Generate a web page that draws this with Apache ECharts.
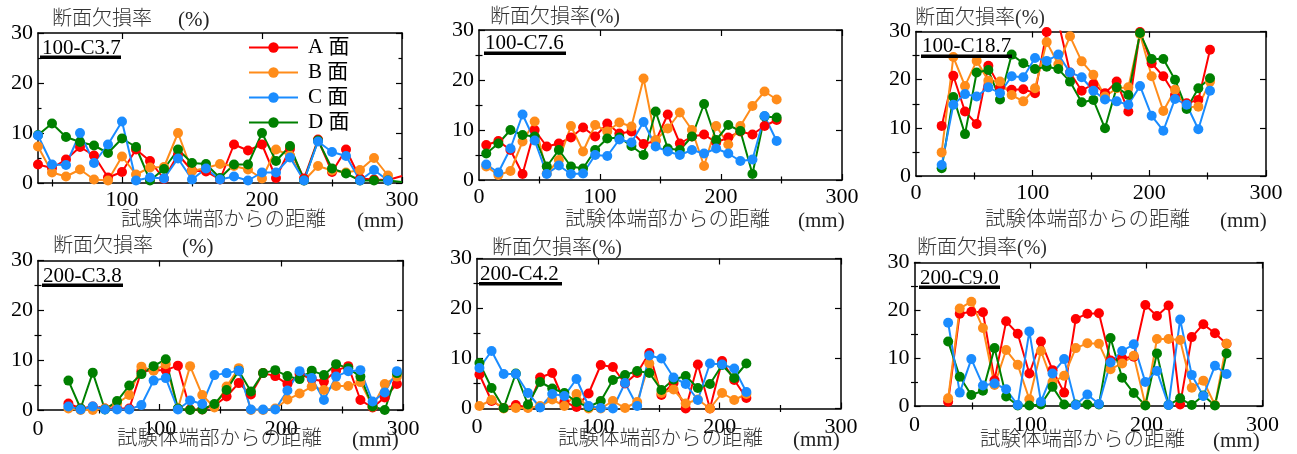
<!DOCTYPE html>
<html>
<head>
<meta charset="utf-8">
<script src="https://cdn.jsdelivr.net/npm/echarts@6/dist/echarts.min.js"></script>
<style>
html, body { margin: 0; padding: 0; background: #fff; }
#chart { width: 1297px; height: 454px; }
</style>
</head>
<body>
<div id="chart"></div>
<script>
// Face names and colours (A, B, C, D faces)
const faces = ['A 面', 'B 面', 'C 面', 'D 面'];
const faceColors = ['#ff0000', '#ff8c1a', '#1a8cff', '#008000'];

// Tick values
const yTicks = [0, 10, 20, 30];
const yMinorTicks = [5, 15, 25];
const xTicks = [0, 100, 200, 300];
const p1XTicks = [100, 200, 300];
const xMinorTicks = [50, 150, 250];

// Specimen 100-C3.7
const p1Name = '100-C3.7';
const p1Dist = [40, 50, 60, 70, 80, 90, 100, 110, 120, 130, 140, 150, 160, 170, 180, 190, 200, 210, 220, 230, 240, 250, 260, 270, 280, 290, 300];
const p1A = [3.7, 3.0, 4.7, 7.2, 5.5, 1.1, 2.2, 6.7, 4.4, 0.8, 5.7, 2.5, 2.3, 0.7, 7.7, 6.5, 7.7, 1.0, 6.8, 0.9, 8.7, 2.2, 6.7, 0.9, 0.7, 0.6, 1.4];
const p1B = [7.3, 2.1, 1.3, 2.7, 0.7, 0.5, 5.3, 1.7, 3.1, 3.2, 10.0, 2.4, 3.0, 3.8, 3.4, 2.7, 0.9, 6.7, 5.5, 0.5, 3.4, 2.5, 2.1, 2.6, 5.0, 1.5, null];
const p1C = [9.5, 3.7, 3.6, 10.0, 4.0, 7.7, 12.3, 0.5, 1.1, 0.9, 4.9, 0.7, 2.9, 0.7, 1.3, 0.5, 2.1, 2.1, 5.1, 0.5, 8.3, 6.2, 5.4, 0.5, 2.6, 0.5, null];
const p1D = [9.6, 11.9, 9.2, 8.2, 7.5, 6.0, 8.9, 7.2, 0.5, 2.8, 6.7, 4.0, 3.8, 1.0, 3.7, 3.7, 10.0, 4.4, 7.4, 0.5, 8.5, 2.9, 1.9, 0.5, 0.5, 0.5, 0.2];

// Specimen 100-C7.6
const p2Name = '100-C7.6';
const p2Dist = [6, 16, 26, 36, 46, 56, 66, 76, 86, 96, 106, 116, 126, 136, 146, 156, 166, 176, 186, 196, 206, 216, 226, 236, 246];
const p2A = [7.0, 7.8, 6.0, 1.2, 10.0, 6.7, 7.3, 8.5, 10.5, 8.7, 11.3, 9.3, 9.7, 7.2, 7.8, 13.1, 7.3, 8.7, 9.1, 7.5, 8.5, 9.7, 9.1, 10.8, 12.0];
const p2B = [2.7, 1.0, 1.8, 7.7, 11.7, 1.3, 4.0, 10.8, 5.7, 11.0, 9.7, 11.5, 10.7, 20.3, 8.0, 10.3, 13.5, 10.0, 2.8, 10.8, 7.1, 10.8, 14.8, 17.7, 16.1];
const p2C = [3.1, 1.5, 6.3, 13.1, 7.9, 1.2, 2.9, 1.2, 1.3, 5.0, 4.8, 8.1, 7.5, 11.6, 6.7, 5.7, 5.0, 6.0, 5.3, 6.3, 5.3, 3.8, 4.1, 12.8, 7.8];
const p2D = [5.3, 7.3, 10.0, 9.0, 8.7, 2.7, 6.0, 2.7, 2.3, 6.0, 8.3, 8.5, 6.8, 5.0, 13.7, 6.3, 6.0, 8.7, 15.2, 8.0, 11.0, 9.8, 1.2, 12.7, 12.5];

// Specimen 100-C18.7
const p3Name = '100-C18.7';
const p3Dist = [22, 32, 42, 52, 62, 72, 82, 92, 102, 112, 122, 132, 142, 152, 162, 172, 182, 192, 202, 212, 222, 232, 242, 252];
const p3A = [10.4, 20.8, 13.4, 10.8, 22.9, 18.4, 17.9, 18.0, 17.2, 29.9, 32.0, 21.5, 17.7, 19.1, 17.2, 19.6, 13.4, 29.9, 23.4, 20.7, 16.8, 15.1, 15.8, 26.2];
const p3B = [4.9, 24.7, 18.7, 23.9, 19.8, 19.6, 16.8, 15.5, 18.2, 27.8, 23.2, 29.0, 23.8, 21.0, 16.5, 18.2, 18.4, 29.5, 20.7, 13.5, 17.9, 14.3, 14.4, 19.6];
const p3C = [2.3, 14.8, 17.0, 16.5, 18.4, 17.2, 20.7, 20.5, 24.5, 23.9, 25.2, 21.5, 20.5, 17.7, 15.9, 15.5, 14.8, 18.7, 12.5, 9.4, 16.0, 14.8, 9.7, 17.7];
const p3D = [1.6, 16.4, 8.7, 21.5, 22.0, 15.9, 25.2, 23.4, 22.2, 22.7, 22.2, 19.6, 15.3, 15.8, 9.9, 18.4, 16.8, 29.7, 24.3, 24.3, 20.0, 13.9, 18.2, 20.3];

// Specimen 200-C3.8
const p4Name = '200-C3.8';
const p4Dist = [25, 35, 45, 55, 65, 75, 85, 95, 105, 115, 125, 135, 145, 155, 165, 175, 185, 195, 205, 215, 225, 235, 245, 255, 265, 275, 285, 295];
const p4A = [1.3, 0.3, 0.7, 0.3, 0.3, 0.3, 7.8, 8.0, 8.0, 8.9, 0.1, 0.1, 0.9, 2.7, 5.4, 3.1, 7.4, 6.8, 5.2, 7.2, 6.2, 5.7, 7.9, 8.8, 2.0, 0.5, 2.5, 5.2];
const p4B = [0.3, 0.0, 0.0, 0.3, 1.3, 3.0, 8.7, 7.9, 9.2, 0.3, 8.8, 3.0, 0.5, 4.7, 8.4, 0.0, 0.0, 0.3, 2.1, 3.3, 4.7, 4.0, 4.8, 4.8, 5.6, 0.7, 5.2, 6.7];
const p4C = [0.7, 0.1, 0.7, 0.1, 0.1, 0.1, 1.0, 5.9, 6.4, 0.1, 1.9, 1.2, 7.0, 7.4, 7.9, 0.1, 0.1, 0.1, 3.9, 7.8, 6.4, 2.0, 6.7, 7.8, 8.0, 1.7, 3.5, 7.8];
const p4D = [5.9, 0.3, 7.5, 0.1, 1.8, 4.9, 7.2, 8.8, 10.2, 0.3, 0.0, 0.1, 1.2, 4.0, 7.9, 3.7, 7.4, 8.0, 6.8, 6.2, 7.9, 7.0, 9.2, 8.4, 6.7, 0.7, 0.0, 7.4];

// Specimen 200-C4.2
const p5Name = '200-C4.2';
const p5Dist = [2, 12, 22, 32, 42, 52, 62, 72, 82, 92, 102, 112, 122, 132, 142, 152, 162, 172, 182, 192, 202, 212, 222];
const p5A = [6.8, 1.5, 0.1, 0.7, 0.2, 6.2, 7.1, 1.3, 0.3, 3.0, 8.7, 8.3, 5.0, 7.1, 11.1, 2.7, 5.1, 0.0, 8.8, 0.0, 9.5, 5.7, 2.1];
const p5B = [0.5, 1.7, 0.0, 0.1, 0.1, 0.5, 1.8, 0.5, 2.9, 0.0, 0.0, 1.5, 0.1, 1.3, 9.0, 3.1, 3.8, 1.0, 1.8, 0.0, 3.1, 1.7, 2.9];
const p5C = [8.1, 11.5, 6.9, 6.9, 3.1, 0.2, 2.9, 2.5, 5.9, 0.5, 0.1, 0.0, 5.1, 0.5, 10.6, 10.0, 6.2, 4.9, 1.7, 9.0, 8.8, 8.0, 3.3];
const p5D = [9.1, 4.1, 0.1, 7.0, 0.8, 5.3, 4.0, 3.1, 1.3, 0.3, 1.5, 5.7, 6.7, 7.5, 7.1, 3.7, 5.8, 6.5, 4.1, 4.9, 8.7, 6.1, 9.0];

// Specimen 200-C9.0
const p6Name = '200-C9.0';
const p6Dist = [29, 39, 49, 59, 69, 79, 89, 99, 109, 119, 129, 139, 149, 159, 169, 179, 189, 199, 209, 219, 229, 239, 249, 259, 269];
const p6A = [0.9, 19.3, 19.7, 19.6, 5.4, 17.7, 15.1, 6.8, 13.5, 7.5, 2.8, 18.2, 19.3, 19.4, 9.5, 10.0, 10.3, 21.1, 18.8, 21.0, 0.3, 14.4, 17.1, 15.2, 13.0];
const p6B = [1.6, 20.4, 21.8, 16.3, 4.4, 11.7, 8.6, 1.4, 11.5, 5.0, 6.3, 12.1, 13.1, 13.0, 7.7, 8.9, 10.5, 0.2, 14.0, 14.0, 13.8, 3.8, 5.3, 0.2, 13.0];
const p6C = [17.4, 2.8, 9.8, 4.3, 4.7, 3.5, 0.2, 15.6, 0.9, 6.8, 9.8, 0.2, 2.4, 0.4, 9.1, 11.5, 12.9, 5.0, 7.3, 0.2, 18.1, 6.5, 2.1, 8.4, 6.7];
const p6D = [13.5, 6.1, 2.3, 3.2, 12.1, 2.0, 0.1, 0.1, 0.3, 4.0, 0.3, 0.3, 0.3, 0.3, 14.2, 5.9, 2.7, 0.1, 11.0, 0.2, 1.6, 0.2, 2.2, 0.1, 11.0];

const yTitle = '断面欠損率';
const yUnit = '(%)';
const xTitle = '試験体端部からの距離';
const xUnit = '(mm)';

const panels = [
  { name: p1Name, dist: p1Dist, vals: [p1A, p1B, p1C, p1D], xMin: 40, xLabels: p1XTicks },
  { name: p2Name, dist: p2Dist, vals: [p2A, p2B, p2C, p2D], xMin: 0, xLabels: xTicks },
  { name: p3Name, dist: p3Dist, vals: [p3A, p3B, p3C, p3D], xMin: 0, xLabels: xTicks },
  { name: p4Name, dist: p4Dist, vals: [p4A, p4B, p4C, p4D], xMin: 0, xLabels: xTicks },
  { name: p5Name, dist: p5Dist, vals: [p5A, p5B, p5C, p5D], xMin: 0, xLabels: xTicks },
  { name: p6Name, dist: p6Dist, vals: [p6A, p6B, p6C, p6D], xMin: 0, xLabels: xTicks }
];
const X_MAX = 300, Y_MAX = 30;

// Page layout of each panel (pixels)
const layout = [
  { grid: [38, 33, 364, 150],   lbl: [42, 48, 40, 55.5, 81],   yt: [52, 20, 178], xt: [121, 221, 357], xm: 6 },
  { grid: [479, 30, 363, 150],  lbl: [485, 43, 484, 51.5, 82], yt: [490, 18, null], xt: [565, 221, 798], xm: 6 },
  { grid: [916, 31.5, 350, 144.5], lbl: [922, 46, 921, 54.5, 91], yt: [915, 19, null], xt: [985, 221, 1220], xm: 6 },
  { grid: [38, 260.5, 365, 149.5], lbl: [43, 276, 42, 283.5, 81], yt: [53, 247, 182], xt: [117, 440, 352], xm: 8 },
  { grid: [477, 258.5, 364, 150],  lbl: [480, 274.5, 479, 282, 83], yt: [492, 249, null], xt: [558, 440, 793], xm: 8 },
  { grid: [914.5, 262.5, 348, 143.5], lbl: [920, 278.5, 919, 285.5, 81], yt: [917, 249, null], xt: [980, 441, 1213], xm: 8 }
];

const SERIF = '"Liberation Serif", "Noto Sans CJK JP", serif';
const AX = '#000';

const grids = [], xAxes = [], yAxes = [], series = [], graphics = [];

function tickStyle(len, values) {
  return { show: true, inside: true, length: len, customValues: values, lineStyle: { color: AX, width: 1.2 } };
}

function xAxisSet(gi, p, lay) {
  const base = { gridIndex: gi, type: 'value', min: p.xMin, max: X_MAX, splitLine: { show: false } };
  const line = { show: true, onZero: false, lineStyle: { color: AX, width: 1.5 } };
  const noLine = { show: false };
  return [
    Object.assign({}, base, { position: 'bottom', axisLine: line, axisTick: tickStyle(6, [100, 200, 300]),
      axisLabel: { show: true, customValues: p.xLabels, color: AX, fontSize: 22, fontFamily: SERIF, margin: lay.xm } }),
    Object.assign({}, base, { position: 'top', axisLine: line, axisTick: tickStyle(6, [100, 200, 300]), axisLabel: { show: false } }),
    Object.assign({}, base, { position: 'bottom', axisLine: noLine, axisTick: tickStyle(3.5, xMinorTicks), axisLabel: { show: false } }),
    Object.assign({}, base, { position: 'top', axisLine: noLine, axisTick: tickStyle(3.5, xMinorTicks), axisLabel: { show: false } })
  ];
}

function yAxisSet(gi) {
  const base = { gridIndex: gi, type: 'value', min: 0, max: Y_MAX, splitLine: { show: false } };
  const line = { show: true, onZero: false, lineStyle: { color: AX, width: 1.5 } };
  const noLine = { show: false };
  return [
    Object.assign({}, base, { position: 'left', axisLine: line, axisTick: tickStyle(6, yTicks),
      axisLabel: { show: true, customValues: yTicks, color: AX, fontSize: 22, fontFamily: SERIF, margin: 5 } }),
    Object.assign({}, base, { position: 'right', axisLine: line, axisTick: tickStyle(6, yTicks), axisLabel: { show: false } }),
    Object.assign({}, base, { position: 'left', axisLine: noLine, axisTick: tickStyle(3.5, yMinorTicks), axisLabel: { show: false } }),
    Object.assign({}, base, { position: 'right', axisLine: noLine, axisTick: tickStyle(3.5, yMinorTicks), axisLabel: { show: false } })
  ];
}

function txt(x, y, s, size, fill, weight) {
  return { type: 'text', x: x, y: y, z: 100, silent: true,
    style: { text: s, fill: fill || '#000', font: (weight || 'normal') + ' ' + size + 'px ' + SERIF,
      textAlign: 'left', textVerticalAlign: 'middle' } };
}

// drawing order: A, B, D, C (C on top)
const drawOrder = [0, 1, 3, 2];

panels.forEach((p, gi) => {
  const lay = layout[gi];
  grids.push({ left: lay.grid[0], top: lay.grid[1], width: lay.grid[2], height: lay.grid[3], containLabel: false });
  xAxes.push(...xAxisSet(gi, p, lay));
  yAxes.push(...yAxisSet(gi));

  drawOrder.forEach(fi => {
    const data = [];
    p.dist.forEach((x, k) => {
      const v = p.vals[fi][k];
      if (v === null || v === undefined) return;
      if (x >= X_MAX) data.push({ value: [x, v], symbol: 'none' });
      else data.push([x, v]);
    });
    series.push({
      type: 'line', name: faces[fi], xAxisIndex: gi * 4, yAxisIndex: gi * 4,
      data: data, symbol: 'circle', symbolSize: 10, showAllSymbol: true,
      color: faceColors[fi],
      lineStyle: { color: faceColors[fi], width: 2 },
      itemStyle: { color: faceColors[fi] },
      emphasis: { disabled: true }, animation: false, clip: true
    });
  });

  // specimen label with underline
  graphics.push(txt(lay.lbl[0], lay.lbl[1], p.name, 21));
  graphics.push({ type: 'rect', z: 100, silent: true,
    shape: { x: lay.lbl[2], y: lay.lbl[3], width: lay.lbl[4], height: 3.5 },
    style: { fill: '#000' } });

  // y axis title
  if (lay.yt[2] !== null) {
    graphics.push(txt(lay.yt[0], lay.yt[1], yTitle, 20, '#333', 300));
    graphics.push(txt(lay.yt[2], lay.yt[1], yUnit, 21, '#222'));
  } else {
    graphics.push(txt(lay.yt[0], lay.yt[1], yTitle + yUnit, 20, '#333', 300));
  }
  // x axis title
  graphics.push(txt(lay.xt[0], lay.xt[1], xTitle, 20.5, '#333', 300));
  graphics.push(txt(lay.xt[2], lay.xt[1], xUnit, 21, '#222'));
});

const chart = echarts.init(document.getElementById('chart'), null, { renderer: 'canvas' });
chart.setOption({
  backgroundColor: '#fff',
  animation: false,
  grid: grids,
  xAxis: xAxes,
  yAxis: yAxes,
  legend: {
    data: faces,
    orient: 'vertical',
    left: 243, top: 32,
    itemWidth: 49, itemHeight: 13, itemGap: 4,
    selectedMode: false,
    textStyle: { fontSize: 21, fontFamily: SERIF, color: '#000', lineHeight: 21, padding: [0, 0, 0, 5] }
  },
  series: series,
  graphic: graphics
});
</script>
</body>
</html>
